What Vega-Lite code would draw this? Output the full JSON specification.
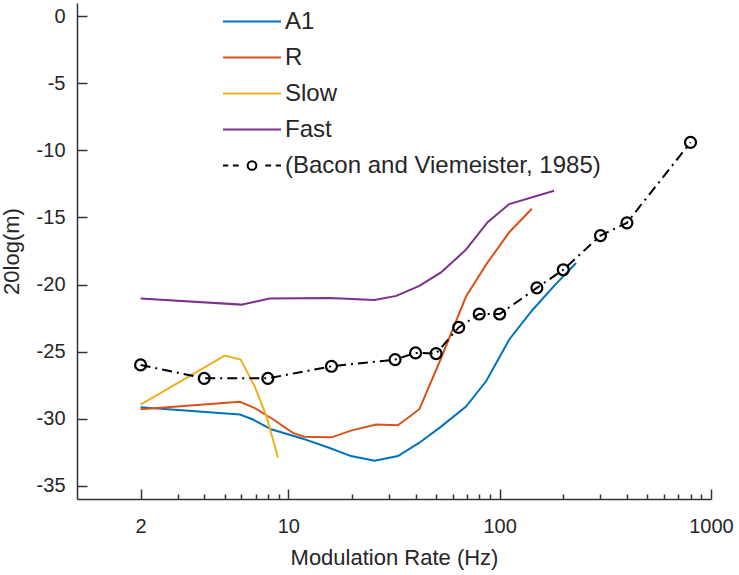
{
  "$schema": "https://vega.github.io/schema/vega-lite/v6.json",
  "width": 634,
  "height": 496,
  "autosize": {"type": "none"},
  "padding": {"left": 77, "top": 3, "right": 28, "bottom": 76},
  "background": "white",
  "data": {
    "values": [
      {"series": "A1", "rate": 2, "db": -29.15},
      {"series": "A1", "rate": 5.9, "db": -29.7},
      {"series": "A1", "rate": 6.8, "db": -30.07},
      {"series": "A1", "rate": 8.3, "db": -30.8},
      {"series": "A1", "rate": 11.7, "db": -31.5},
      {"series": "A1", "rate": 15.7, "db": -32.2},
      {"series": "A1", "rate": 19.8, "db": -32.8},
      {"series": "A1", "rate": 25.6, "db": -33.15},
      {"series": "A1", "rate": 33, "db": -32.8},
      {"series": "A1", "rate": 41.7, "db": -31.8},
      {"series": "A1", "rate": 52.8, "db": -30.6},
      {"series": "A1", "rate": 69.3, "db": -29.1},
      {"series": "A1", "rate": 86.4, "db": -27.2},
      {"series": "A1", "rate": 111, "db": -24.1},
      {"series": "A1", "rate": 143, "db": -21.9},
      {"series": "A1", "rate": 181, "db": -20.1},
      {"series": "A1", "rate": 230, "db": -18.4},
      {"series": "R", "rate": 2, "db": -29.3},
      {"series": "R", "rate": 5.9, "db": -28.75},
      {"series": "R", "rate": 6.9, "db": -29.2},
      {"series": "R", "rate": 8.5, "db": -30.07},
      {"series": "R", "rate": 10.5, "db": -31.07},
      {"series": "R", "rate": 11.9, "db": -31.35},
      {"series": "R", "rate": 16, "db": -31.4},
      {"series": "R", "rate": 19.8, "db": -30.9},
      {"series": "R", "rate": 26, "db": -30.45},
      {"series": "R", "rate": 33, "db": -30.5},
      {"series": "R", "rate": 41.7, "db": -29.3},
      {"series": "R", "rate": 52.8, "db": -25.5},
      {"series": "R", "rate": 69.3, "db": -20.9},
      {"series": "R", "rate": 86.4, "db": -18.5},
      {"series": "R", "rate": 111, "db": -16.1},
      {"series": "R", "rate": 142, "db": -14.35},
      {"series": "Slow", "rate": 2, "db": -28.96},
      {"series": "Slow", "rate": 5, "db": -25.3},
      {"series": "Slow", "rate": 5.95, "db": -25.6},
      {"series": "Slow", "rate": 6.93, "db": -27.6},
      {"series": "Slow", "rate": 7.87, "db": -29.8},
      {"series": "Slow", "rate": 8.93, "db": -32.9},
      {"series": "Fast", "rate": 2, "db": -21.05},
      {"series": "Fast", "rate": 6, "db": -21.5},
      {"series": "Fast", "rate": 8.15, "db": -21.05},
      {"series": "Fast", "rate": 15.7, "db": -21.0},
      {"series": "Fast", "rate": 25.6, "db": -21.15},
      {"series": "Fast", "rate": 32.4, "db": -20.85},
      {"series": "Fast", "rate": 41.7, "db": -20.1},
      {"series": "Fast", "rate": 52.8, "db": -19.1},
      {"series": "Fast", "rate": 69.3, "db": -17.4},
      {"series": "Fast", "rate": 87.7, "db": -15.35},
      {"series": "Fast", "rate": 111, "db": -14.0},
      {"series": "Fast", "rate": 181, "db": -13.0},
      {"series": "Bacon", "rate": 2, "db": -26.0},
      {"series": "Bacon", "rate": 4, "db": -27.0},
      {"series": "Bacon", "rate": 8, "db": -27.0},
      {"series": "Bacon", "rate": 16, "db": -26.1},
      {"series": "Bacon", "rate": 32, "db": -25.6},
      {"series": "Bacon", "rate": 40, "db": -25.1},
      {"series": "Bacon", "rate": 50, "db": -25.15},
      {"series": "Bacon", "rate": 64, "db": -23.2},
      {"series": "Bacon", "rate": 80, "db": -22.2},
      {"series": "Bacon", "rate": 100, "db": -22.2},
      {"series": "Bacon", "rate": 150, "db": -20.25},
      {"series": "Bacon", "rate": 200, "db": -18.9},
      {"series": "Bacon", "rate": 300, "db": -16.35},
      {"series": "Bacon", "rate": 400, "db": -15.4},
      {"series": "Bacon", "rate": 800, "db": -9.4}
    ]
  },
  "encoding": {
    "x": {
      "field": "rate",
      "type": "quantitative",
      "scale": {"type": "log", "domain": [1, 1000], "nice": false},
      "axis": {
        "title": "Modulation Rate (Hz)",
        "values": [2, 3, 4, 5, 6, 7, 8, 9, 10, 20, 30, 40, 50, 60, 70, 80, 90, 100, 200, 300, 400, 500, 600, 700, 800, 900, 1000],
        "labelExpr": "datum.value == 2 || datum.value == 10 || datum.value == 100 || datum.value == 1000 ? datum.value : ''",
        "tickSize": {
          "condition": {"test": "datum.value == 2 || datum.value == 10 || datum.value == 100 || datum.value == 1000", "value": -10},
          "value": -5
        },
        "labelPadding": 27,
        "labelOverlap": false,
        "labelFlush": false,
        "titlePadding": 6
      }
    },
    "y": {
      "field": "db",
      "type": "quantitative",
      "scale": {"domain": [-36, 1], "nice": false, "zero": false},
      "axis": {
        "title": "20log(m)",
        "values": [0, -5, -10, -15, -20, -25, -30, -35],
        "labelExpr": "datum.value == 0 ? '0' : '-' + abs(datum.value)",
        "tickSize": -10,
        "labelPadding": 22,
        "titlePadding": 13
      }
    }
  },
  "layer": [
    {
      "transform": [{"filter": "datum.series != 'Bacon'"}],
      "mark": {"type": "line", "strokeWidth": 2},
      "encoding": {
        "color": {
          "field": "series",
          "type": "nominal",
          "scale": {
            "domain": ["A1", "R", "Slow", "Fast", "(Bacon and Viemeister, 1985)"],
            "range": ["#0072BD", "#D95319", "#EDB120", "#7E2F8E", "#000000"]
          },
          "legend": {
            "title": null,
            "orient": "none",
            "legendX": 145,
            "legendY": 3,
            "padding": 0,
            "symbolType": "stroke",
            "symbolSize": 841,
            "symbolOffset": 14.5,
            "symbolStrokeWidth": 2,
            "labelFontSize": 24,
            "labelLimit": 600,
            "labelOffset": 17.5,
            "rowPadding": 8,
            "encode": {
              "symbols": {
                "update": {
                  "shape": {"signal": "datum.value == '(Bacon and Viemeister, 1985)' ? 'M-2,0H-1.64M-1.32,0H-0.92M-0.3,0A0.3,0.3,0,1,0,0.3,0A0.3,0.3,0,1,0,-0.3,0M0.92,0H1.32M1.64,0H2' : 'M-2,0H2'"},
                  "fill": {"value": "transparent"}
                }
              }
            }
          }
        }
      }
    },
    {
      "transform": [{"filter": "datum.series == 'Bacon'"}],
      "mark": {"type": "line", "color": "black", "strokeWidth": 2, "strokeDash": [10, 5, 2, 5]}
    },
    {
      "transform": [{"filter": "datum.series == 'Bacon'"}],
      "mark": {"type": "point", "shape": "circle", "filled": false, "color": "black", "strokeWidth": 2.2, "size": 120, "opacity": 1}
    }
  ],
  "config": {
    "view": {"stroke": null},
    "font": "Liberation Sans",
    "axis": {
      "grid": false,
      "domainColor": "#333333",
      "domainWidth": 1.5,
      "tickColor": "#333333",
      "tickWidth": 1.5,
      "labelColor": "#262626",
      "labelFontSize": 20,
      "titleColor": "#262626",
      "titleFontSize": 22,
      "titleFontWeight": "normal"
    },
    "legend": {
      "labelColor": "#262626",
      "labelFont": "Liberation Sans"
    }
  }
}
